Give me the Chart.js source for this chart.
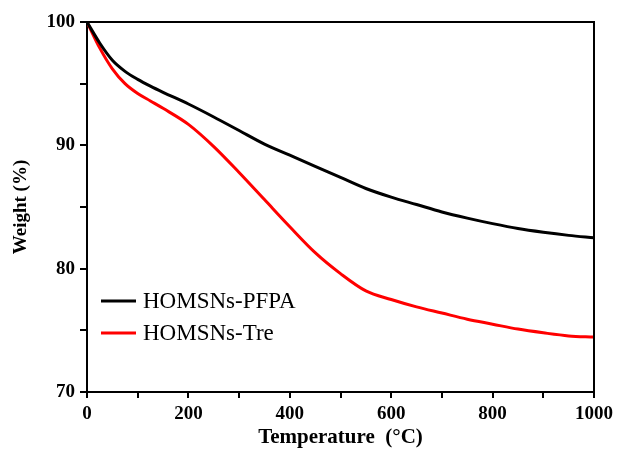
<!DOCTYPE html>
<html>
<head>
<meta charset="utf-8">
<script src="https://cdn.jsdelivr.net/npm/chart.js@4/dist/chart.umd.min.js"></script>
<style>
  html, body { margin: 0; padding: 0; background: #fff; }
  #wrap { width: 618px; height: 452px; }
</style>
</head>
<body>
<div id="wrap"><canvas id="myChart" width="618" height="452"></canvas></div>
<script>
// TGA curves
const temps = [0, 25, 50, 75, 100, 125, 150, 200, 250, 300, 350, 400, 450, 500, 550, 600, 650, 700, 750, 800, 850, 900, 950, 1000];
const pfpa = [100, 98.3, 96.9, 96.0, 95.35, 94.8, 94.3, 93.35, 92.3, 91.2, 90.1, 89.2, 88.3, 87.4, 86.5, 85.8, 85.2, 84.6, 84.1, 83.65, 83.25, 82.95, 82.7, 82.5];
const tre = [100, 97.9, 96.2, 95.0, 94.2, 93.6, 93.0, 91.7, 89.9, 87.8, 85.6, 83.4, 81.3, 79.6, 78.2, 77.5, 76.9, 76.4, 75.9, 75.5, 75.1, 74.8, 74.55, 74.45];
const seriesLabels = ["HOMSNs-PFPA", "HOMSNs-Tre"];
const seriesColors = ["#000000", "#ff0000"];

const serif = '"Liberation Serif", "Times New Roman", serif';

const frameBox = {
  id: "frameBox",
  afterDraw(chart) {
    const { ctx, chartArea: a } = chart;
    ctx.save();
    ctx.strokeStyle = "#000";
    ctx.lineWidth = 2;
    ctx.beginPath();
    ctx.moveTo(a.left, a.top);
    ctx.lineTo(a.right, a.top);
    ctx.lineTo(a.right, a.bottom);
    ctx.stroke();

    // legend inside the plot, lower left
    ctx.font = "23px " + serif;
    ctx.textBaseline = "middle";
    chart.data.datasets.forEach((ds, i) => {
      const y = a.top + 279 + i * 32;
      ctx.strokeStyle = ds.borderColor;
      ctx.lineWidth = 3;
      ctx.beginPath();
      ctx.moveTo(a.left + 14, y);
      ctx.lineTo(a.left + 49, y);
      ctx.stroke();
      ctx.fillStyle = "#000";
      ctx.fillText(ds.label, a.left + 56, y + 1);
    });
    ctx.restore();
  }
};

const data = {
  datasets: [pfpa, tre].map((vals, i) => ({
    label: seriesLabels[i],
    data: temps.map((t, j) => ({ x: t, y: vals[j] })),
    borderColor: seriesColors[i],
    borderWidth: 3,
    pointRadius: 0,
    cubicInterpolationMode: "monotone",
    fill: false
  }))
};

const config = {
  type: "line",
  data: data,
  options: {
    responsive: false,
    animation: false,
    layout: { padding: { top: 22, right: 23, left: 0, bottom: 0 } },
    plugins: { legend: { display: false }, tooltip: { enabled: false } },
    scales: {
      x: {
        type: "linear",
        min: 0,
        max: 1000,
        afterFit(scale) { scale.height = 60; },
        ticks: {
          stepSize: 100,
          autoSkip: false,
          maxRotation: 0,
          padding: 5,
          color: "#000",
          font: { family: serif, size: 19, weight: "bold" },
          callback: (v) => (v % 200 === 0 ? v : "")
        },
        grid: { drawOnChartArea: false, drawTicks: true, tickLength: 6, tickColor: "#000", lineWidth: 2 },
        border: { color: "#000", width: 2 },
        title: {
          display: true,
          text: "Temperature  (\u00B0C)",
          color: "#000",
          font: { family: serif, size: 21, weight: "bold" },
          padding: { top: 0, bottom: 2 }
        }
      },
      y: {
        min: 70,
        max: 100,
        afterFit(scale) { scale.width = 87; },
        ticks: {
          stepSize: 5,
          autoSkip: false,
          padding: 5,
          color: "#000",
          font: { family: serif, size: 19, weight: "bold" },
          callback: (v) => (v % 10 === 0 ? v : "")
        },
        grid: { drawOnChartArea: false, drawTicks: true, tickLength: 7, tickColor: "#000", lineWidth: 2 },
        border: { color: "#000", width: 2 },
        title: {
          display: true,
          text: "Weight (%)",
          color: "#000",
          font: { family: serif, size: 19, weight: "bold" },
          padding: { top: 10, bottom: 0 }
        }
      }
    }
  },
  plugins: [frameBox]
};

const ctx = document.getElementById("myChart").getContext("2d");
new Chart(ctx, config);
</script>
</body>
</html>
